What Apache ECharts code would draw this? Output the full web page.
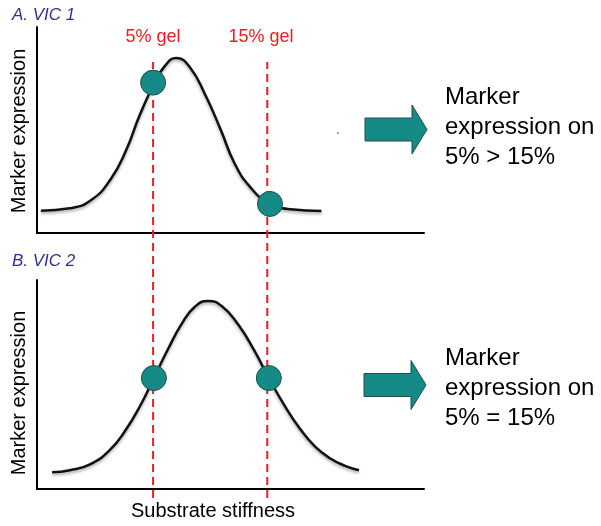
<!DOCTYPE html>
<html>
<head>
<meta charset="utf-8">
<script src="https://cdn.jsdelivr.net/npm/echarts@6/dist/echarts.min.js"></script>
<style>
html,body{margin:0;padding:0;background:#fff;}
#chart{width:601px;height:526px;}
</style>
</head>
<body>
<div id="chart"></div>
<script>
// Panel titles and texts
const panelTitles = ['A. VIC 1', 'B. VIC 2'];
const gelLabels = ['5% gel', '15% gel'];
const gelX = [30, 59.5];
const conclusions = ['Marker\nexpression on\n5% > 15%', 'Marker\nexpression on\n5% = 15%'];
const yAxisName = 'Marker expression';
const xAxisName = 'Substrate stiffness';

// Curve A (VIC 1)
const curveA_x = [1, 8.5, 14, 19, 23, 26.5, 30, 33, 36, 39.5, 43.5, 47.5, 51, 55, 60, 65.5, 73.5];
const curveA_y = [10.8, 12, 16, 26, 40, 57, 71.5, 81, 85, 80.5, 67, 50, 34, 22.5, 14.5, 11.5, 10.7];
const pointsA_x = [30, 60.2];
const pointsA_y = [73, 14.1];

// Curve B (VIC 2)
const curveB_x = [3.9, 8.5, 13.7, 18.9, 22.7, 26.6, 30.2, 33.9, 37.5, 40.8, 44.2, 47.8, 51.9, 56.1, 59.9, 64.1, 68, 71.8, 75.7, 79.6, 83.2];
const curveB_y = [8, 9, 11.8, 18.8, 27.6, 39.6, 53.1, 67.1, 79.4, 87.2, 90, 87.4, 78.9, 66.4, 53.1, 39.5, 28.7, 20.4, 14.7, 11.1, 9];
const pointsB_x = [30.2, 59.9];
const pointsB_y = [53.1, 53.1];

const FONT = "'Liberation Sans', Arial, Helvetica, sans-serif";
const TEAL = '#168a86';
const TEAL_BORDER = '#1f4f4d';
const RED = '#ec1c24';
const NAVY = '#2e3192';

const zip = (xs, ys) => xs.map((x, i) => [x, ys[i]]);

const chart = echarts.init(document.getElementById('chart'), null, {renderer: 'canvas'});

const axisStyle = {
  axisLine: {show: true, onZero: false, lineStyle: {color: '#000', width: 2}},
  axisTick: {show: false}, axisLabel: {show: false}, splitLine: {show: false}
};

const curveStyle = {
  type: 'line', smooth: 0.5, showSymbol: false, symbol: 'none', z: 3,
  lineStyle: {color: '#111', width: 2.5, shadowColor: 'rgba(0,0,0,0.35)', shadowBlur: 3, shadowOffsetY: 2}
};
const dotStyle = {
  type: 'scatter', symbolSize: 25, z: 5,
  itemStyle: {color: TEAL, borderColor: TEAL_BORDER, borderWidth: 1, opacity: 1}
};

function arrow(cx, cy) {
  return {
    type: 'polygon', z: 10,
    shape: {points: [
      [cx, cy - 11.5], [cx + 47, cy - 11.5], [cx + 47, cy - 24.5], [cx + 62, cy],
      [cx + 47, cy + 24.5], [cx + 47, cy + 11.5], [cx, cy + 11.5]
    ]},
    style: {fill: TEAL, stroke: TEAL_BORDER, lineWidth: 1}
  };
}

const option = {
  animation: false,
  backgroundColor: '#fff',
  grid: [
    {left: 37, top: 27, width: 387, height: 206},
    {left: 37, top: 280, width: 387, height: 209},
    {left: 37, top: 62, width: 387, height: 436}
  ],
  xAxis: [
    Object.assign({type: 'value', gridIndex: 0, min: 0, max: 100}, axisStyle),
    Object.assign({type: 'value', gridIndex: 1, min: 0, max: 100}, axisStyle),
    {type: 'value', gridIndex: 2, min: 0, max: 100, show: false}
  ],
  yAxis: [
    Object.assign({type: 'value', gridIndex: 0, min: 0, max: 100}, axisStyle),
    Object.assign({type: 'value', gridIndex: 1, min: 0, max: 100}, axisStyle),
    {type: 'value', gridIndex: 2, min: 0, max: 1, show: false}
  ],
  series: [
    ...gelX.map(g => ({
      type: 'line', xAxisIndex: 2, yAxisIndex: 2, showSymbol: false, symbol: 'none', z: 1,
      data: [[g, 0], [g, 1]],
      lineStyle: {color: RED, width: 2, type: [8, 5]}
    })),
    Object.assign({xAxisIndex: 0, yAxisIndex: 0, data: zip(curveA_x, curveA_y)}, curveStyle),
    Object.assign({xAxisIndex: 1, yAxisIndex: 1, data: zip(curveB_x, curveB_y)}, curveStyle),
    Object.assign({xAxisIndex: 0, yAxisIndex: 0, data: zip(pointsA_x, pointsA_y)}, dotStyle),
    Object.assign({xAxisIndex: 1, yAxisIndex: 1, data: zip(pointsB_x, pointsB_y)}, dotStyle)
  ],
  graphic: [
    {type: 'text', x: 12, y: 15, style: {text: panelTitles[0], fill: NAVY, font: 'italic 17px ' + FONT, textVerticalAlign: 'middle'}},
    {type: 'text', x: 12, y: 261, style: {text: panelTitles[1], fill: NAVY, font: 'italic 17px ' + FONT, textVerticalAlign: 'middle'}},
    {type: 'text', x: 153, y: 37, style: {text: gelLabels[0], fill: RED, font: '18px ' + FONT, textAlign: 'center', textVerticalAlign: 'middle'}},
    {type: 'text', x: 261, y: 37, style: {text: gelLabels[1], fill: RED, font: '18px ' + FONT, textAlign: 'center', textVerticalAlign: 'middle'}},
    {type: 'text', x: 19, y: 131, rotation: Math.PI / 2, style: {text: yAxisName, fill: '#000', font: '20px ' + FONT, textAlign: 'center', textVerticalAlign: 'middle'}},
    {type: 'text', x: 19, y: 393, rotation: Math.PI / 2, style: {text: yAxisName, fill: '#000', font: '20px ' + FONT, textAlign: 'center', textVerticalAlign: 'middle'}},
    {type: 'text', x: 213, y: 511, style: {text: xAxisName, fill: '#000', font: '20px ' + FONT, textAlign: 'center', textVerticalAlign: 'middle'}},
    arrow(365, 129.5),
    arrow(364, 385),
    {type: 'text', x: 445, y: 127, style: {text: conclusions[0], fill: '#000', font: '24px ' + FONT, lineHeight: 30, textVerticalAlign: 'middle'}},
    {type: 'text', x: 445, y: 388, style: {text: conclusions[1], fill: '#000', font: '24px ' + FONT, lineHeight: 30, textVerticalAlign: 'middle'}},
    {type: 'circle', shape: {cx: 338, cy: 133, r: 1}, style: {fill: '#888'}}
  ]
};
chart.setOption(option);
</script>
</body>
</html>
